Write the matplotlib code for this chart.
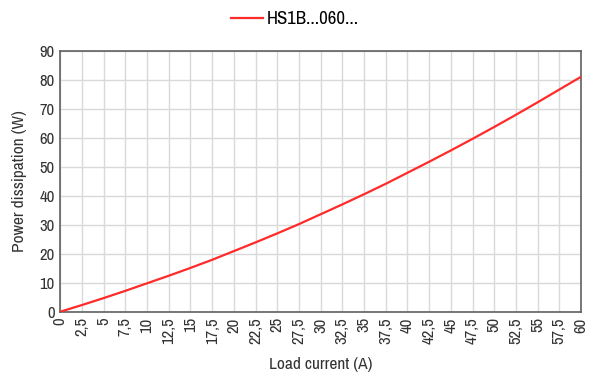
import numpy as np
import matplotlib
matplotlib.use("Agg")
import matplotlib.pyplot as plt
from matplotlib.ticker import FixedLocator

# Power dissipation curve, read at every 2.5 A
current = [0, 2.5, 5, 7.5, 10, 12.5, 15, 17.5, 20, 22.5, 25, 27.5, 30,
           32.5, 35, 37.5, 40, 42.5, 45, 47.5, 50, 52.5, 55, 57.5, 60]
power = [0, 2.3, 4.7, 7.2, 9.8, 12.4, 15.1, 17.9, 20.9, 23.9, 27.0, 30.2, 33.6,
         37.0, 40.5, 44.1, 47.9, 51.7, 55.6, 59.6, 63.7, 67.9, 72.2, 76.6, 81.0]
series_name = "HS1B...060..."

x_ticks = np.arange(0, 60.1, 2.5)
x_labels = [("%g" % v).replace(".", ",") for v in x_ticks]
y_ticks = list(range(0, 91, 10))

plt.rcParams['font.family'] = ['Archivo Narrow', 'Liberation Sans', 'DejaVu Sans']

fig = plt.figure(figsize=(5.91, 3.74), dpi=100)
ax = fig.add_axes([60.3 / 591, 1 - 311.7 / 374, 520.7 / 591, 261 / 374])

ax.plot(current, power, color="#ff2a2a", lw=1.6, label=series_name, zorder=3)

ax.set_xlim(0, 60)
ax.set_ylim(0, 90)
ax.xaxis.set_major_locator(FixedLocator(x_ticks))
ax.set_xticklabels(x_labels, rotation=90, fontsize=12)
ax.set_yticks(y_ticks)
ax.set_yticklabels([str(v) for v in y_ticks], fontsize=12)
ax.tick_params(length=0, pad=4, colors="#333333")
ax.grid(True, color="#d9d9d9", lw=1.0)
ax.set_axisbelow(True)
for sp in ax.spines.values():
    sp.set_color("#606060")
    sp.set_linewidth(1.2)

ax.set_xlabel("Load current (A)", fontsize=12.5, labelpad=9, color="#333333")
ax.set_ylabel("Power dissipation (W)", fontsize=12.5, labelpad=9, color="#333333")

fig.legend(loc="center", bbox_to_anchor=(295 / 591, 1 - 19 / 374), frameon=False,
           fontsize=13.5, handlelength=1.7, handletextpad=0.25, borderpad=0)

fig.savefig("out.png", dpi=100)
